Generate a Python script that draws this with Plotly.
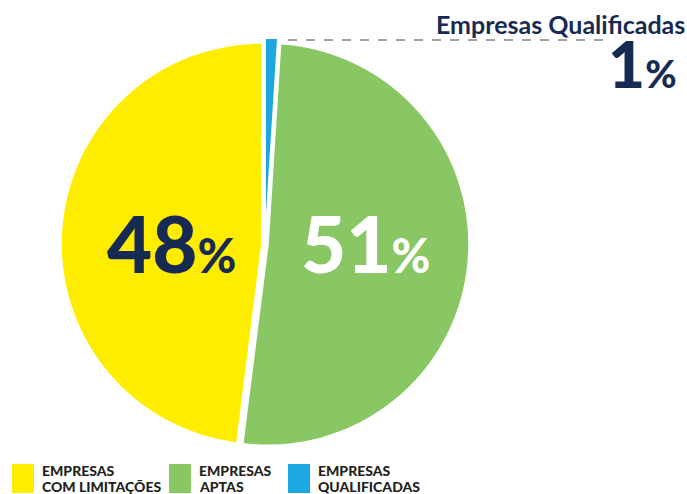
import plotly.graph_objects as go

labels = ["Empresas Qualificadas", "Empresas Aptas", "Empresas com Limitações"]
values = [1, 51, 48]
colors = ["#1CA7E0", "#88C764", "#FFED00"]
legend_line1 = ["EMPRESAS", "EMPRESAS", "EMPRESAS"]
legend_line2 = ["COM LIMITAÇÕES", "APTAS", "QUALIFICADAS"]
legend_colors = ["#FFED00", "#88C764", "#1CA7E0"]
NAVY = "#172A54"

W, H = 687, 494
cx, cy, R = 265, 244, 201
pulls = [0.025, 0.015, 0.015]
half = R * (1 + max(pulls))

fig = go.Figure(go.Pie(
    labels=labels, values=values, sort=False, direction="clockwise", rotation=0,
    pull=pulls,
    marker=dict(colors=colors, line=dict(color="white", width=1.5)),
    textinfo="none", hoverinfo="label+percent", showlegend=False,
    domain=dict(x=[(cx - half) / W, (cx + half) / W], y=[(H - cy - half) / H, (H - cy + half) / H]),
))

def px(x): return x / W
def py(y): return 1 - y / H

big = dict(family="Lato", size=78, weight=900)
ann = []
ann.append(dict(x=px(171), y=py(243), text=f"{values[2]}<span style='font-size:47px'>%</span>",
                font=dict(**big, color=NAVY), showarrow=False, xanchor="center", yanchor="middle", borderpad=0))
ann.append(dict(x=px(365), y=py(243), text=f"{values[1]}<span style='font-size:47px'>%</span>",
                font=dict(**big, color="white"), showarrow=False, xanchor="center", yanchor="middle", borderpad=0))
ann.append(dict(x=px(686), y=py(24), text="Empresas Qualificadas",
                font=dict(family="Lato", size=25, color=NAVY, weight=700), showarrow=False,
                xanchor="right", yanchor="middle", borderpad=0))
ann.append(dict(x=px(678), y=py(63), text=f"{values[0]}<span style='font-size:38px'>%</span>",
                font=dict(family="Lato", size=64, color=NAVY, weight=900), showarrow=False,
                xanchor="right", yanchor="middle", borderpad=0))

shapes = [dict(type="line", xref="paper", yref="paper", x0=px(288), x1=px(605), y0=py(40), y1=py(40),
               line=dict(color="#444444", width=1, dash="dash"))]

sq_x = [12, 169, 288]
for i in range(3):
    shapes.append(dict(type="rect", xref="paper", yref="paper", x0=px(sq_x[i]), x1=px(sq_x[i] + 22),
                       y0=py(493), y1=py(464), fillcolor=legend_colors[i], line=dict(width=0)))
    for txt, yy in [(legend_line1[i], 470.5), (legend_line2[i], 486.5)]:
        ann.append(dict(x=px(sq_x[i] + 29), y=py(yy), text=txt, align="left",
                        font=dict(family="Lato", size=14, color="#231F20", weight=900),
                        showarrow=False, xanchor="left", yanchor="middle", borderpad=0))

fig.update_layout(width=W, height=H, margin=dict(l=0, r=0, t=0, b=0),
                  paper_bgcolor="white", plot_bgcolor="white",
                  annotations=ann, shapes=shapes)
fig.write_html("out.html", config={"displayModeBar": False},
               post_script="document.body.style.margin='0';document.body.style.overflow='hidden';")
